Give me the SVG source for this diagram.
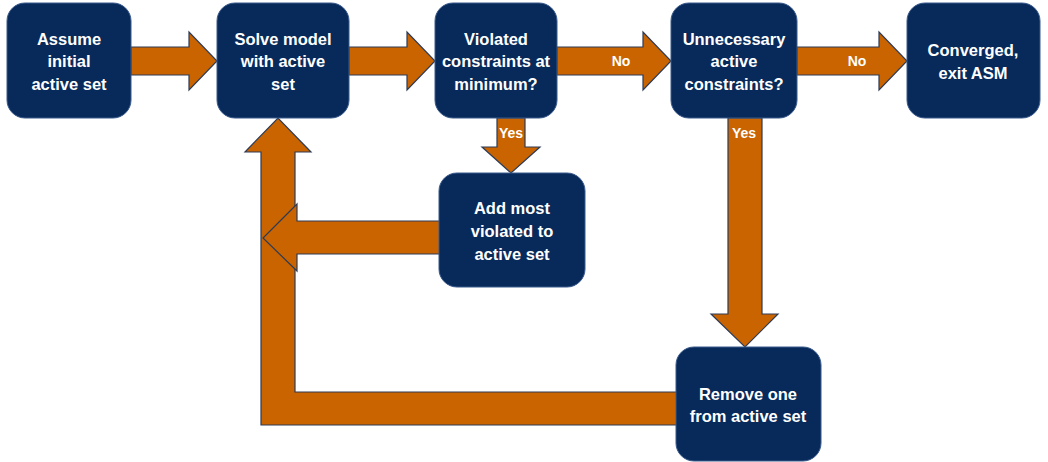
<svg xmlns="http://www.w3.org/2000/svg" width="1048" height="462" viewBox="0 0 1048 462">
<style>
.node{fill:#072A5A;stroke:#3A5A8C;stroke-width:1}
.arr{fill:#C96400;stroke:#2E3B55;stroke-width:1.2;stroke-linejoin:miter}
.t{font-family:"Liberation Sans",Arial,sans-serif;font-weight:bold;font-size:16.5px;fill:#FFFFFF;text-anchor:middle}
.lbl{font-family:"Liberation Sans",Arial,sans-serif;font-weight:bold;font-size:14px;fill:#FFFFFF;text-anchor:middle}
</style>
<rect width="1048" height="462" fill="#FFFFFF"/>
<g id="connectors">
  <polygon id="loop" class="arr" points="690,392 295,392 295,152 311,152 278,118 245,152 261,152 261,425 690,425"/>
  <polygon id="a1" class="arr" points="131,47 189,47 189,32 217,61 189,90 189,75 131,75"/>
  <polygon id="a2" class="arr" points="349,47 407,47 407,32 435,61 407,90 407,75 349,75"/>
  <polygon id="a3" class="arr" points="557,47 643,47 643,32 671,61 643,90 643,75 557,75"/>
  <polygon id="a4" class="arr" points="797,47 879,47 879,32 907,61 879,90 879,75 797,75"/>
  <polygon id="a5" class="arr" points="497,118 497,147 482,147 511,173 540,147 525,147 525,118"/>
  <polygon id="a6" class="arr" points="728,118 728,314 711,314 745,347 778,314 762,314 762,118"/>
  <polygon id="a7" class="arr" points="450,221 297,221 297,204 263,238 297,271 297,254 450,254"/>
  <text class="lbl" x="621" y="66">No</text>
  <text class="lbl" x="857" y="66">No</text>
  <text class="lbl" x="511" y="138">Yes</text>
  <text class="lbl" x="744" y="138">Yes</text>
</g>
<g id="n1">
  <rect class="node" x="7" y="3" width="124" height="115" rx="18"/>
  <text class="t" x="69" y="45">Assume</text>
  <text class="t" x="69" y="67">initial</text>
  <text class="t" x="69" y="90">active set</text>
</g>
<g id="n2">
  <rect class="node" x="217" y="3" width="132" height="115" rx="18"/>
  <text class="t" x="283" y="45">Solve model</text>
  <text class="t" x="283" y="67">with active</text>
  <text class="t" x="283" y="90">set</text>
</g>
<g id="n3">
  <rect class="node" x="435" y="3" width="122" height="115" rx="18"/>
  <text class="t" x="496" y="45">Violated</text>
  <text class="t" x="496" y="67">constraints at</text>
  <text class="t" x="496" y="90">minimum?</text>
</g>
<g id="n4">
  <rect class="node" x="671" y="3" width="126" height="115" rx="18"/>
  <text class="t" x="734" y="45">Unnecessary</text>
  <text class="t" x="734" y="67">active</text>
  <text class="t" x="734" y="90">constraints?</text>
</g>
<g id="n5">
  <rect class="node" x="907" y="3" width="133" height="115" rx="18"/>
  <text class="t" x="973" y="56">Converged,</text>
  <text class="t" x="973" y="79">exit ASM</text>
</g>
<g id="n6">
  <rect class="node" x="439" y="173" width="146" height="114" rx="18"/>
  <text class="t" x="512" y="214">Add most</text>
  <text class="t" x="512" y="237">violated to</text>
  <text class="t" x="512" y="260">active set</text>
</g>
<g id="n7">
  <rect class="node" x="676" y="347" width="145" height="114" rx="18"/>
  <text class="t" x="748" y="400">Remove one</text>
  <text class="t" x="748" y="422">from active set</text>
</g>
</svg>
